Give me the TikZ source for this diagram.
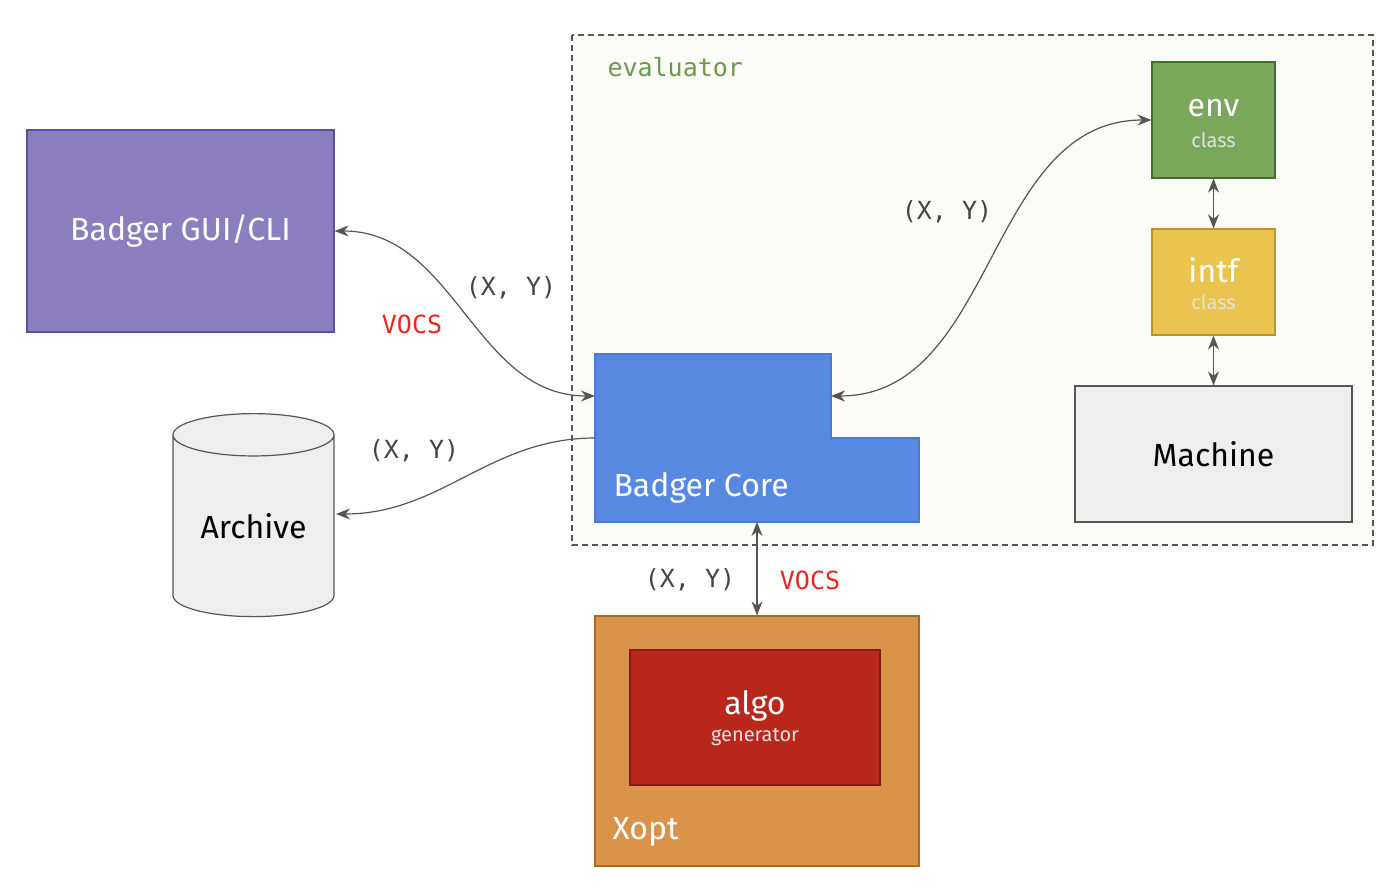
\documentclass[tikz,border=0pt]{standalone}
\usepackage{fontspec}
\setmainfont{Fira Sans}
\setmonofont{DejaVu Sans Mono}
\usetikzlibrary{arrows.meta,shapes.geometric}

\definecolor{guiFill}{HTML}{8A7EBF}
\definecolor{guiLine}{HTML}{5A4FA0}
\definecolor{coreFill}{HTML}{5789E0}
\definecolor{coreLine}{HTML}{4A7BD0}
\definecolor{envFill}{HTML}{79A85A}
\definecolor{envLine}{HTML}{3F6F2A}
\definecolor{intfFill}{HTML}{EBC34F}
\definecolor{intfLine}{HTML}{B8962A}
\definecolor{xoptFill}{HTML}{D9934A}
\definecolor{xoptLine}{HTML}{A86A2A}
\definecolor{algoFill}{HTML}{BA271C}
\definecolor{algoLine}{HTML}{8A1A10}
\definecolor{greyFill}{HTML}{EEEEEE}
\definecolor{evalFill}{HTML}{FBFCF8}
\definecolor{wire}{HTML}{555555}
\definecolor{evalGreen}{HTML}{6A9A4A}
\definecolor{vocsRed}{HTML}{E8281E}

\tikzset{
  box/.style={draw, line width=1.2pt, inner sep=0pt, text=white},
  big/.style={font=\fontsize{32}{36}\selectfont},
  small/.style={font=\fontsize{20}{23}\selectfont, text=white!88!black},
  lbl/.style={font=\ttfamily\fontsize{25}{28}\selectfont, text=wire!80!black},
  vocs/.style={font=\ttfamily\fontsize{25}{28}\selectfont, text=vocsRed},
  link/.style={draw=wire, line width=1.2pt, -{Stealth[length=14pt,width=11pt]}},
  blink/.style={link, {Stealth[length=14pt,width=11pt]}-{Stealth[length=14pt,width=11pt]}}
}

\begin{document}
\begin{tikzpicture}[x=1pt, y=-1pt]

  \useasboundingbox (0,0) rectangle (1400,896);

  %% evaluator area
  \draw[wire, line width=1.2pt, fill=evalFill, dash pattern=on 6pt off 4pt]
    (572,35) rectangle (1373,545);
  \node[anchor=west, font=\ttfamily\fontsize{25}{28}\selectfont, text=evalGreen]
    (evaltitle) at (604,67) {evaluator};

  %% boxes
  \node[box, big, fill=guiFill, draw=guiLine, minimum width=307pt, minimum height=202pt]
    (gui) at (180.5,231) {Badger GUI/CLI};

  \node[cylinder, shape border rotate=90, draw=wire, line width=1.2pt, fill=greyFill,
    cylinder uses custom fill, cylinder end fill=greyFill!60!white, cylinder body fill=greyFill,
    minimum width=161pt, minimum height=203pt, aspect=0.4, big, inner sep=0pt]
    (archive) at (253.5,526) {Archive};
  \coordinate (archIn) at (336,514);

  \node[box, fill=envFill, draw=envLine, minimum width=123pt, minimum height=116pt]
    (env) at (1213.5,120) {};
  \node[big, text=white] at (1213.5,108) {env};
  \node[small] at (1213.5,140) {class};

  \node[box, fill=intfFill, draw=intfLine, minimum width=123pt, minimum height=106pt]
    (intf) at (1213.5,282) {};
  \node[big, text=white] at (1213.5,270) {intf};
  \node[small] at (1213.5,302) {class};

  \node[box, big, text=black, fill=greyFill, draw=wire, minimum width=277pt, minimum height=136pt]
    (machine) at (1213.5,454) {Machine};

  %% Badger Core
  \draw[fill=coreFill, draw=coreLine, line width=1.2pt]
    (595,354) -- (831,354) -- (831,438) -- (919,438) -- (919,522) -- (595,522) -- cycle;
  \coordinate (coreL) at (595,396);
  \coordinate (coreA) at (595,438);
  \coordinate (coreR) at (831,396);
  \coordinate (coreB) at (757,522);
  \node[big, text=white, anchor=west] (corelbl) at (610,488) {Badger Core};

  %% Xopt
  \node[box, fill=xoptFill, draw=xoptLine, minimum width=324pt, minimum height=250pt]
    (xopt) at (757,741) {};
  \node[big, text=white, anchor=west] at (609,832) {Xopt};
  \node[box, fill=algoFill, draw=algoLine, minimum width=250pt, minimum height=135pt]
    (algo) at (755,717.5) {};
  \node[big, text=white] at (755,706) {algo};
  \node[small] at (755,737) {generator};

  %% connectors
  \draw[blink] (gui.east) to[out=0, in=180] (coreL);
  \draw[link] (coreA) to[out=180, in=0] (archIn);
  \draw[blink] (coreR) to[out=0, in=180] (env.west);
  \draw[blink] (env.south) -- (intf.north);
  \draw[blink] (intf.south) -- (machine.north);
  \draw[blink] (coreB) -- (xopt.north);

  %% labels
  \node[lbl] at (511,288) {(X, Y)};
  \node[vocs] at (412,324) {VOCS};
  \node[lbl] at (414,451) {(X, Y)};
  \node[lbl] at (947,212) {(X, Y)};
  \node[lbl] at (690,580) {(X, Y)};
  \node[vocs] at (810,580) {VOCS};

\end{tikzpicture}
\end{document}
